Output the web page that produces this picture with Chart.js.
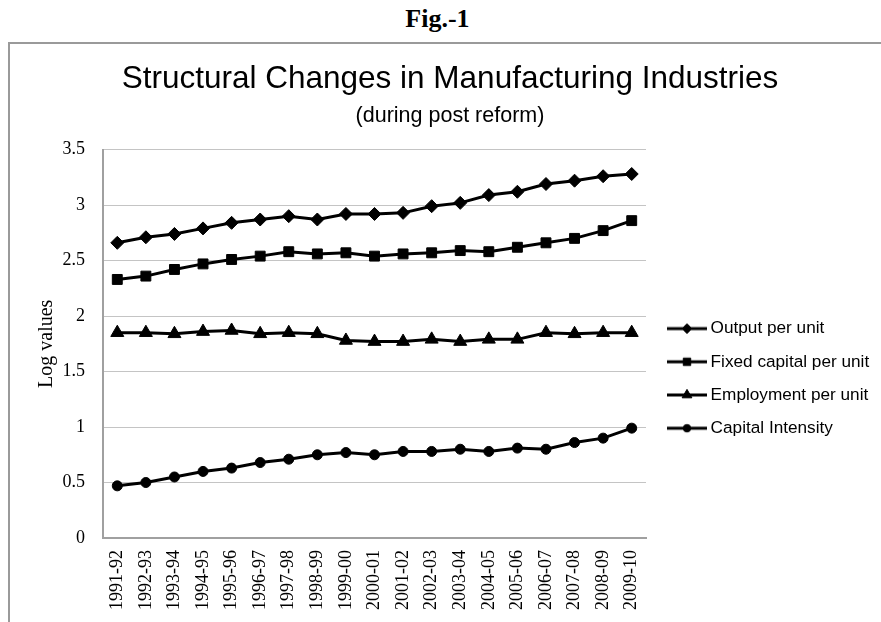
<!DOCTYPE html>
<html>
<head>
<meta charset="utf-8">
<script src="https://cdn.jsdelivr.net/npm/chart.js@4/dist/chart.umd.min.js"></script>
<style>
  html, body { margin: 0; padding: 0; background: #fff; }
  body { width: 881px; height: 622px; position: relative; overflow: hidden; }
  #fig {
    position: absolute; left: 0; top: 4px; width: 875px; text-align: center;
    font-family: "Liberation Serif", "Times New Roman", serif; font-weight: bold; font-size: 26px;
  }
  #frame {
    position: absolute; left: 8px; top: 42px; width: 873px; height: 580px;
    border-top: 2px solid #9a9a9a; border-left: 2px solid #9a9a9a;
  }
  #chart { display: block; }
</style>
</head>
<body>
<div id="fig">Fig.-1</div>
<div id="frame"><canvas id="chart" width="871" height="578"></canvas></div>
<script>
// data
const years = ["1991-92", "1992-93", "1993-94", "1994-95", "1995-96", "1996-97", "1997-98",
  "1998-99", "1999-00", "2000-01", "2001-02", "2002-03", "2003-04", "2004-05", "2005-06",
  "2006-07", "2007-08", "2008-09", "2009-10"];
const outputPerUnit = [2.66, 2.71, 2.74, 2.79, 2.84, 2.87, 2.90, 2.87, 2.92, 2.92,
  2.93, 2.99, 3.02, 3.09, 3.12, 3.19, 3.22, 3.26, 3.28];
const fixedCapitalPerUnit = [2.33, 2.36, 2.42, 2.47, 2.51, 2.54, 2.58, 2.56, 2.57, 2.54,
  2.56, 2.57, 2.59, 2.58, 2.62, 2.66, 2.70, 2.77, 2.86];
const employmentPerUnit = [1.85, 1.85, 1.84, 1.86, 1.87, 1.84, 1.85, 1.84, 1.78, 1.77,
  1.77, 1.79, 1.77, 1.79, 1.79, 1.85, 1.84, 1.85, 1.85];
const capitalIntensity = [0.47, 0.50, 0.55, 0.60, 0.63, 0.68, 0.71, 0.75, 0.77, 0.75,
  0.78, 0.78, 0.80, 0.78, 0.81, 0.80, 0.86, 0.90, 0.99];
const seriesNames = ["Output per unit", "Fixed capital per unit", "Employment per unit", "Capital Intensity"];
const yTicks = [0, 0.5, 1, 1.5, 2, 2.5, 3, 3.5];

const SERIF = "'Liberation Serif', 'Times New Roman', serif";
const SANS = "'Liberation Sans', Arial, sans-serif";

// marker look per series
const markers = [
  { style: "rectRot", radius: 6.5 },
  { style: "rect", radius: 7 },
  { style: "triangle", radius: 7.5 },
  { style: "circle", radius: 5 }
];

// where the legend sits inside the canvas
const legendLeft = 646;
const legendTop = 276;

// little line + marker picture for the legend
function legendIcon(m) {
  const c = document.createElement("canvas");
  c.width = 40; c.height = 16;
  const ctx = c.getContext("2d");
  ctx.strokeStyle = "#000";
  ctx.lineWidth = 3;
  ctx.beginPath();
  ctx.moveTo(0, 8); ctx.lineTo(40, 8);
  ctx.stroke();
  ctx.fillStyle = "#000";
  ctx.lineWidth = 1;
  Chart.helpers.drawPoint(ctx, { pointStyle: m.style, radius: m.radius * 0.75, borderWidth: 1 }, 20, 8);
  return c;
}

const moveLegend = {
  id: "moveLegend",
  afterLayout(chart) {
    const lg = chart.legend;
    const pad = lg.options.labels.padding;
    const y0 = (lg.top + pad + lg.bottom - lg.columnSizes[0].height) / 2;
    const dy = legendTop - y0;
    const dx = legendLeft - lg.left;
    lg.top += dy; lg.bottom += dy;
    lg.left += dx;
    lg.right = chart.width;  // no clipping of the long labels
  }
};

const allSeries = [outputPerUnit, fixedCapitalPerUnit, employmentPerUnit, capitalIntensity];

const datasets = allSeries.map((values, i) => ({
  label: seriesNames[i],
  data: values,
  borderColor: "#000",
  backgroundColor: "#000",
  borderWidth: 3,
  pointStyle: markers[i].style,
  pointRadius: markers[i].radius,
  pointBackgroundColor: "#000",
  pointBorderColor: "#000",
  pointBorderWidth: 1,
  tension: 0
}));

new Chart(document.getElementById("chart"), {
  type: "line",
  data: { labels: years, datasets: datasets },
  plugins: [moveLegend],
  options: {
    responsive: false,
    animation: false,
    layout: { padding: { left: 48, right: 39, top: 0, bottom: 0 } },
    plugins: {
      title: {
        display: true,
        text: "Structural Changes in Manufacturing Industries",
        color: "#000",
        font: { family: SANS, size: 31.5, weight: "normal" },
        padding: { top: 16, bottom: 3 }
      },
      subtitle: {
        display: true,
        text: "(during post reform)",
        color: "#000",
        font: { family: SANS, size: 21.5, weight: "normal" },
        padding: { top: 2, bottom: 21 }
      },
      legend: {
        position: "right",
        labels: {
          color: "#000",
          font: { family: SANS, size: 17.2 },
          padding: 16,
          usePointStyle: true,
          pointStyleWidth: 30,
          generateLabels(chart) {
            const items = Chart.defaults.plugins.legend.labels.generateLabels(chart);
            items.forEach((it, i) => { it.pointStyle = legendIcon(markers[i]); });
            return items;
          }
        }
      },
      tooltip: { enabled: false }
    },
    scales: {
      x: {
        offset: true,
        grid: { display: false, drawTicks: false },
        border: { color: "#a0a0a0", width: 2 },
        ticks: {
          autoSkip: false, maxRotation: 90, minRotation: 90, padding: 12,
          color: "#000", font: { family: SERIF, size: 18 }
        }
      },
      y: {
        min: 0, max: 3.5,
        afterBuildTicks(scale) { scale.ticks = yTicks.map(v => ({ value: v })); },
        afterFit(scale) { scale.width = 45; },
        grid: { color: "#c4c4c4", lineWidth: 1, drawTicks: false },
        border: { color: "#a0a0a0", width: 2 },
        ticks: {
          padding: 18, color: "#000", font: { family: SERIF, size: 18 },
          callback: v => String(v)
        },
        title: {
          display: true, text: "Log values", color: "#000",
          font: { family: SERIF, size: 20 },
          padding: { top: -23, bottom: 4 }
        }
      }
    }
  }
});
</script>
</body>
</html>
